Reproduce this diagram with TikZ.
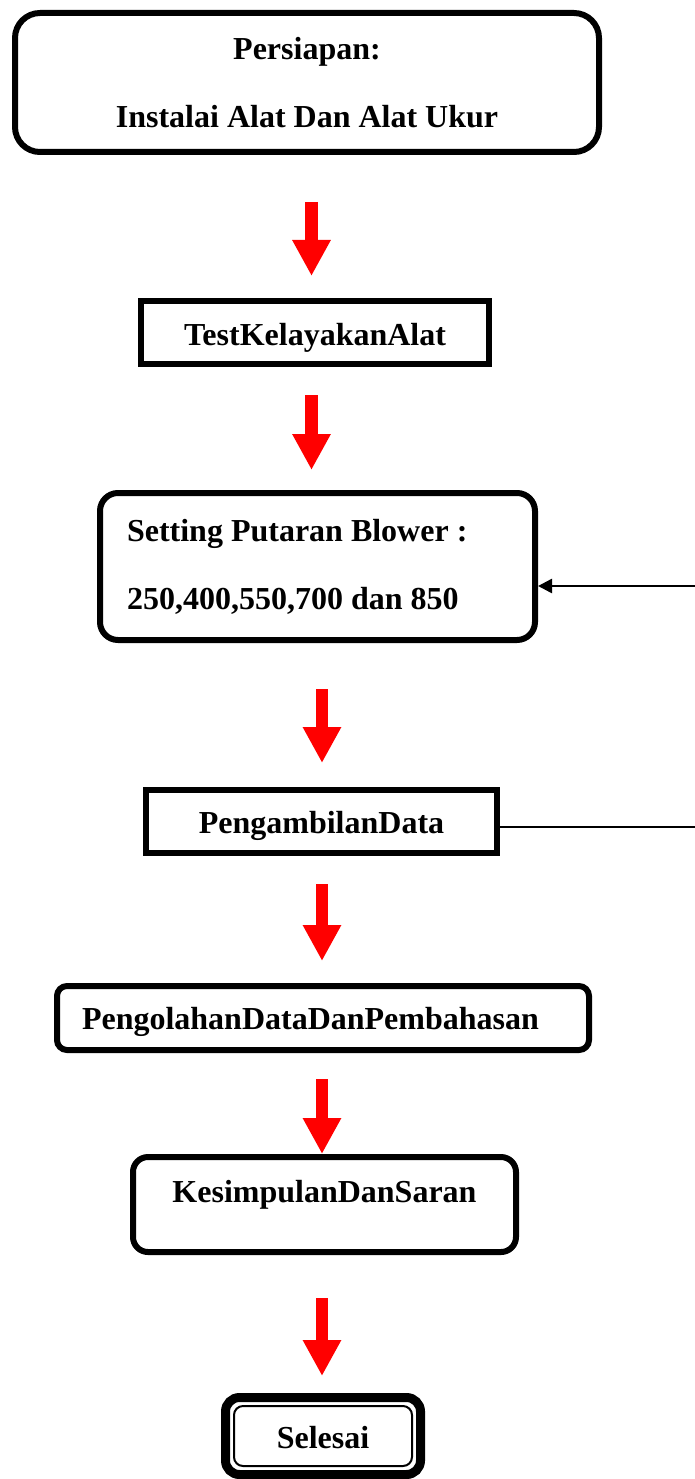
\documentclass[tikz,border=0pt]{standalone}
\usepackage{fontspec}
\setmainfont{Liberation Serif}
\usetikzlibrary{arrows.meta}
\tikzset{
  box/.style={draw=black, line width=6pt, fill=white, inner sep=0pt,
    font=\bfseries\fontsize{32}{38}\selectfont},
  sqbox/.style={box},
  rbox/.style={box, rounded corners=#1},
  redarr/.style={draw=red, line width=12.5pt, -{Triangle[width=36pt,length=36pt]}},
  fb/.style={draw=black, line width=2.5pt},
  fbarr/.style={fb, -{Triangle[width=14pt,length=14pt]}}
}
\begin{document}
\begin{tikzpicture}[x=1pt,y=-1pt]
\useasboundingbox[fill=white] (0,0) rectangle (695,1479);
% boxes
\node[rbox=25pt, minimum width=584pt, minimum height=139pt, align=flush center]
  (top) at (307,82.5) {Persiapan:\\[30pt]Instalai Alat Dan Alat Ukur};
\node[sqbox, minimum width=348pt, minimum height=63pt, text height=25pt, text depth=0pt]
  (test) at (315,332.5) {TestKelayakanAlat};
\node[rbox=18pt, minimum width=435pt, minimum height=147pt, inner xsep=27pt,
  text width=381pt, align=flush left]
  (sp) at (317.5,566.5) {Setting Putaran Blower :\\[30pt]250,400,550,700 dan 850};
\node[sqbox, minimum width=351pt, minimum height=63pt, text height=23pt, text depth=0pt]
  (pd) at (321.5,821.5) {PengambilanData};
\node[rbox=10pt, minimum width=532pt, minimum height=64pt, inner xsep=25pt,
  text width=482pt, align=flush left, text height=22pt, text depth=0pt]
  (po) at (323,1018) {PengolahanDataDanPembahasan};
\node[rbox=15pt, minimum width=383pt, minimum height=95pt, text height=22pt, text depth=27pt]
  (ks) at (324.5,1204.5) {KesimpulanDanSaran};
\node[rbox=14pt, line width=9pt, minimum width=195pt, minimum height=77pt,
  text height=24pt, text depth=0pt]
  (sel) at (323,1436) {Selesai};
\draw[line width=2pt, rounded corners=9pt]
  ([shift={(13,13)}]sel.north west) rectangle ([shift={(-13,-13)}]sel.south east);
% columns for the red arrows
\coordinate (colA) at (311.5,0);
\coordinate (colB) at (322,0);
\draw[redarr, shorten <=47pt, shorten >=22pt] (top.south -| colA) -- (test.north -| colA);
\draw[redarr, shorten <=28pt, shorten >=20pt] (test.south -| colA) -- (sp.north -| colA);
\draw[redarr, shorten <=46pt, shorten >=24pt] (sp.south -| colB) -- (pd.north -| colB);
\draw[redarr, shorten <=28pt, shorten >=22pt] (pd.south -| colB) -- (po.north -| colB);
\draw[redarr, shorten <=26pt, shorten >=0pt] (po.south -| colB) -- (ks.north -| colB);
\draw[redarr, shorten <=43pt, shorten >=17pt] (ks.south -| colB) -- (sel.north -| colB);
% feedback
\coordinate (r1) at (695,827);
\coordinate (r2) at (695,586);
\draw[fb] (r1 -| pd.east) -- (r1);
\draw[fbarr] (r2) -- (r2 -| sp.east);
\end{tikzpicture}
\end{document}
